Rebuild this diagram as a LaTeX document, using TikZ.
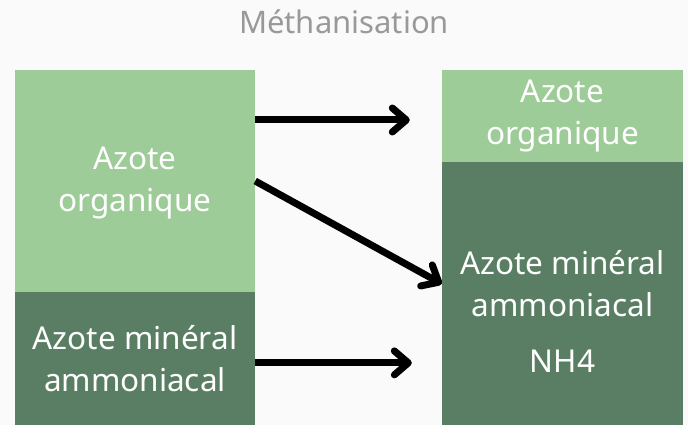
\documentclass[tikz,border=0pt]{standalone}
\usepackage{fontspec}
\setmainfont{Noto Sans}
\usetikzlibrary{arrows.meta, positioning}
\definecolor{bgcolor}{HTML}{FAFAFA}
\definecolor{lightgreen}{HTML}{9ECC98}
\definecolor{darkgreen}{HTML}{5A7E63}
\definecolor{titlegray}{HTML}{999999}

\begin{document}
\begin{tikzpicture}[
        x=1pt, y=-1pt,
        box/.style={inner sep=0pt, minimum width=240pt},
        txt/.style={text=white, font=\fontsize{31.5}{42}\selectfont, align=center},
        flow/.style={line width=7pt, -{Straight Barb[round, length=14pt, width=24pt, line width=7pt]}},
        ]
        \fill[bgcolor] (0,0) rectangle (688,425);
        \useasboundingbox (0,0) rectangle (688,425);
        \node[text=titlegray, font=\fontsize{31}{36}\selectfont] (title) at (344,22) {Méthanisation};

        \node[box, fill=lightgreen, minimum height=222pt] (orgL) at (135,181) {};
        \node[box, fill=darkgreen, minimum height=133pt, below=0pt of orgL] (minL) {};
        \node[box, fill=lightgreen, minimum width=241pt, minimum height=92pt] (orgR) at (562.5,116) {};
        \node[box, fill=darkgreen, minimum width=241pt, minimum height=263pt, below=0pt of orgR] (minR) {};

        \node[txt] at ([yshift=-2pt]orgL.center) {Azote\\organique};
        \node[txt] at (minL) {Azote minéral\\ammoniacal};
        \node[txt] at (orgR) {Azote\\organique};
        \node[txt] at ([yshift=-18pt]minR.center) {Azote minéral\\ammoniacal\\[14pt]NH4};

        \draw[flow] ([yshift=-4pt]orgL.east |- orgR.west) -- ([xshift=-32pt, yshift=-4pt]orgR.west);
        \draw[flow] (orgL.east) -- ([yshift=10pt]minR.west);
        \draw[flow] ([yshift=-4pt]minL.east) -- ([xshift=-30pt, yshift=-4pt]minL.east -| minR.west);
      \end{tikzpicture}
\end{document}
